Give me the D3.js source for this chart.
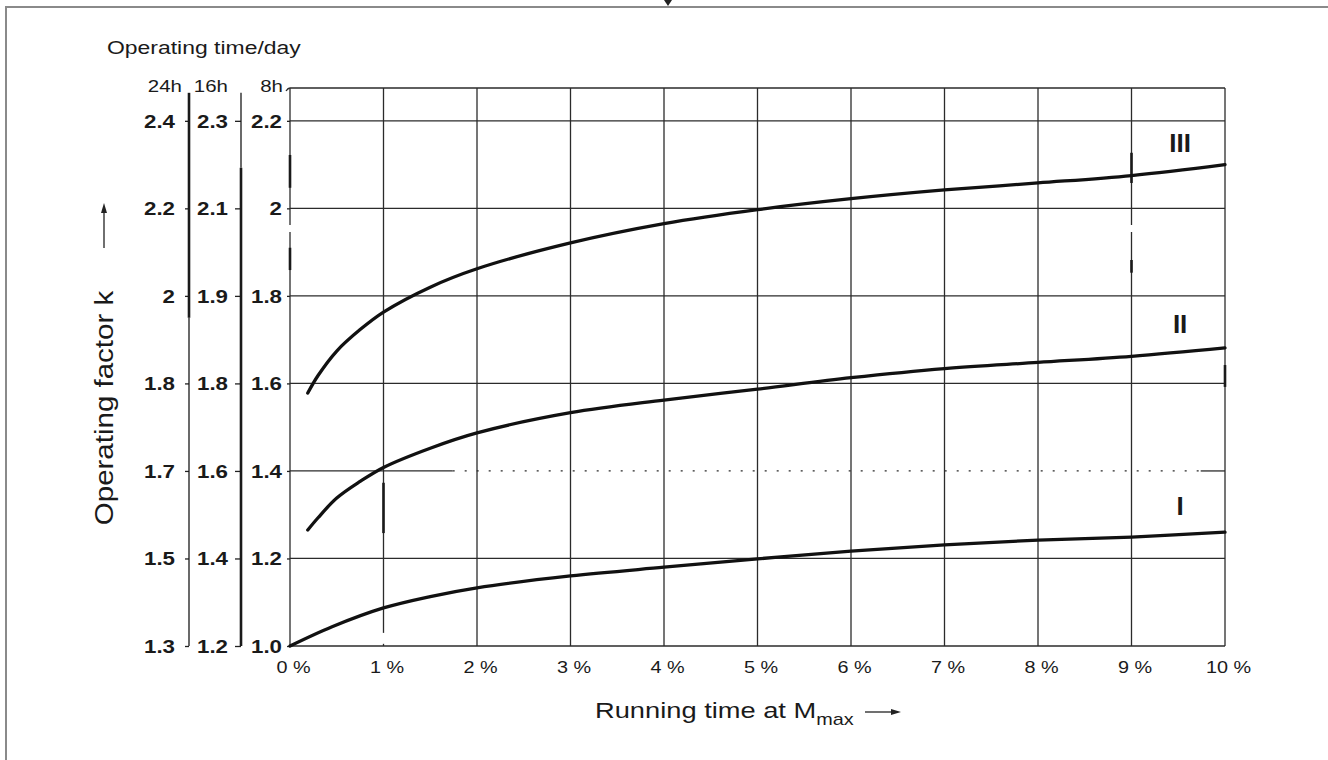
<!DOCTYPE html>
<html>
<head>
<meta charset="utf-8">
<script src="https://cdn.jsdelivr.net/npm/d3@7"></script>
<style>
  body { margin: 0; background: #fff; }
  svg { display: block; }
  text { font-family: "Liberation Sans", Arial, Helvetica, sans-serif; fill: #1a1a1a; }
</style>
</head>
<body>
<div id="chart"></div>
<script>
// running time at Mmax, in %
var runPct = [0, 1, 2, 3, 4, 5, 6, 7, 8, 9, 10];

// operating factor k (read on the 8h scale) for the three load classes
var curveI_x   = [0, 0.45, 1, 1.5, 2, 3, 4, 5, 6, 7, 8, 9, 10];
var curveI_k   = [1.0, 1.044, 1.087, 1.113, 1.133, 1.16, 1.18, 1.199, 1.217, 1.231, 1.242, 1.249, 1.26];
var curveII_x  = [0.19, 0.3, 0.5, 0.75, 1, 1.5, 2, 3, 4, 5, 6, 7, 8, 9, 10];
var curveII_k  = [1.265, 1.293, 1.338, 1.376, 1.408, 1.452, 1.487, 1.533, 1.562, 1.587, 1.613, 1.634, 1.648, 1.662, 1.681];
var curveIII_x = [0.19, 0.3, 0.5, 0.75, 1, 1.5, 2, 3, 4, 5, 6, 7, 8, 9, 10];
var curveIII_k = [1.578, 1.618, 1.674, 1.723, 1.763, 1.820, 1.862, 1.921, 1.965, 1.997, 2.022, 2.042, 2.058, 2.075, 2.10];
var curveNames = ["I", "II", "III"];

// the three k scales (operating time per day) share the same tick rows
var dutyHeads  = ["24h", "16h", "8h"];
var kTicks8h   = [1.0, 1.2, 1.4, 1.6, 1.8, 2.0, 2.2];
var labels8h   = ["1.0", "1.2", "1.4", "1.6", "1.8", "2", "2.2"];
var labels16h  = ["1.2", "1.4", "1.6", "1.8", "1.9", "2.1", "2.3"];
var labels24h  = ["1.3", "1.5", "1.7", "1.8", "2", "2.2", "2.4"];

var W = 1328, H = 760;
var SX = 1.24; // the lettering in the original is extended horizontally

var svg = d3.select("#chart").append("svg").attr("width", W).attr("height", H);

var x = d3.scaleLinear().domain([0, 10]).range([290, 1225]);
var y = d3.scaleLinear().domain([1.0, 2.275]).range([646, 88]);

// outer frame (runs off the page) and the little marker on it
svg.append("path")
    .attr("d", "M6," + H + " L6,7 L" + W + ",7")
    .attr("fill", "none").attr("stroke", "#8a8a8a").attr("stroke-width", 2);
svg.append("path").attr("d", "M664,0 L672,0 L668,6 Z").attr("fill", "#222");

// grid
var grid = svg.append("g").attr("stroke", "#2b2b2b").attr("stroke-width", 1.3).attr("fill", "none");
runPct.forEach(function (v) {
    grid.append("line")
        .attr("x1", x(v)).attr("x2", x(v))
        .attr("y1", y(1.0)).attr("y2", y(2.275));
});
kTicks8h.forEach(function (k) {
    if (k === 1.4) return; // this one is broken up in the scan, drawn below
    grid.append("line")
        .attr("x1", x(0)).attr("x2", x(10))
        .attr("y1", y(k)).attr("y2", y(k));
});
grid.append("path") // top of the box with the small hook at the corner
    .attr("d", "M" + (x(0) - 4) + "," + (y(2.275) + 3) + " Q" + (x(0) - 2) + "," + y(2.275) + " " + x(0) + "," + y(2.275) + " L" + x(10) + "," + y(2.275));
// k = 1.4 row: solid, dotted, solid
grid.append("line").attr("x1", x(0)).attr("x2", x(1.74)).attr("y1", y(1.4)).attr("y2", y(1.4));
grid.append("line").attr("x1", x(1.74)).attr("x2", x(9.74)).attr("y1", y(1.4)).attr("y2", y(1.4))
    .attr("stroke-dasharray", "2,10");
grid.append("line").attr("x1", x(9.74)).attr("x2", x(10)).attr("y1", y(1.4)).attr("y2", y(1.4));

// heavier / missing bits of the printed grid
var scanMarks = [
    { pct: 0, from: 2.122, to: 2.047, w: 2.6 },
    { pct: 0, from: 1.910, to: 1.859, w: 2.6 },
    { pct: 9, from: 2.127, to: 2.058, w: 2.6 },
    { pct: 9, from: 1.882, to: 1.853, w: 2.6 },
    { pct: 10, from: 1.642, to: 1.592, w: 2.6 },
    { pct: 1, from: 1.373, to: 1.258, w: 2.6 }
];
var scanGaps = [
    { pct: 0, from: 1.962, to: 1.946 },
    { pct: 9, from: 1.962, to: 1.946 },
    { pct: 1, from: 1.03, to: 1.005 }
];
scanMarks.forEach(function (m) {
    svg.append("line")
        .attr("x1", x(m.pct)).attr("x2", x(m.pct))
        .attr("y1", y(m.from)).attr("y2", y(m.to))
        .attr("stroke", "#1a1a1a").attr("stroke-width", m.w);
});
scanGaps.forEach(function (m) {
    svg.append("line")
        .attr("x1", x(m.pct)).attr("x2", x(m.pct))
        .attr("y1", y(m.from)).attr("y2", y(m.to))
        .attr("stroke", "#fff").attr("stroke-width", 3);
});

// the three k axes on the left
function kAxis(xpos, labels, tickLen, pad, segs) {
    var ax = d3.axisLeft(y)
        .tickValues(kTicks8h)
        .tickSize(tickLen)
        .tickFormat(function (d, i) { return labels[i]; });
    var g = svg.append("g").attr("transform", "translate(" + xpos + ",0)").call(ax);
    g.select(".domain").remove();
    g.selectAll(".tick line").attr("stroke", "#222").attr("stroke-width", 1.3);
    g.selectAll(".tick text")
        .attr("x", 0)
        .attr("dy", "0.36em")
        .attr("transform", "translate(" + (-pad) + ",0) scale(" + SX + ",1)")
        .attr("font-size", 18)
        .attr("font-weight", "bold")
        .attr("fill", "#1a1a1a");
    segs.forEach(function (s) {
        g.append("line")
            .attr("x1", 0).attr("x2", 0)
            .attr("y1", y(s[0])).attr("y2", y(s[1]))
            .attr("stroke", "#1a1a1a").attr("stroke-width", s[2]);
    });
    return g;
}
kAxis(189, labels24h, 4, 14, [[2.264, 1.75, 2.6], [1.75, 1.0, 1.3]]);
kAxis(241, labels16h, 6, 13, [[2.264, 2.093, 1.3], [2.093, 1.0, 2.6]]);
kAxis(290, labels8h, 3, 8, []);

// heads of the k scales
var headX = [182, 228, 283];
dutyHeads.forEach(function (h, i) {
    svg.append("text")
        .attr("transform", "translate(" + headX[i] + ",92) scale(" + SX + ",1)")
        .attr("text-anchor", "end")
        .attr("font-size", 16.5)
        .text(h);
});

svg.append("text")
    .attr("transform", "translate(107,54) scale(" + SX + ",1)")
    .attr("font-size", 18.5)
    .text("Operating time/day");

// x axis
var xg = svg.append("g")
    .attr("transform", "translate(0," + y(1.0) + ")")
    .call(d3.axisBottom(x).tickValues(runPct).tickSize(0)
        .tickFormat(function (d) { return d + " %"; }));
xg.select(".domain").remove();
xg.selectAll(".tick text")
    .attr("y", 0).attr("dy", 0)
    .attr("transform", "translate(3,27) scale(" + SX + ",1)")
    .attr("text-anchor", "middle")
    .attr("font-size", 16)
    .attr("fill", "#333");

// curves
var line = d3.line()
    .x(function (d) { return x(d[0]); })
    .y(function (d) { return y(d[1]); })
    .curve(d3.curveCatmullRom.alpha(0.5));
var curves = [
    d3.zip(curveI_x, curveI_k),
    d3.zip(curveII_x, curveII_k),
    d3.zip(curveIII_x, curveIII_k)
];
svg.append("g").selectAll("path")
    .data(curves)
    .enter().append("path")
    .attr("d", line)
    .attr("fill", "none")
    .attr("stroke", "#111")
    .attr("stroke-width", 3.3)
    .attr("stroke-linecap", "round");

// curve names
var namePos = [[9.52, 1.299], [9.52, 1.715], [9.52, 2.129]];
curveNames.forEach(function (n, i) {
    svg.append("text")
        .attr("x", x(namePos[i][0]))
        .attr("y", y(namePos[i][1]))
        .attr("text-anchor", "middle")
        .attr("font-size", 26)
        .attr("font-weight", "bold")
        .text(n);
});

// axis titles with their arrows
var xt = svg.append("text")
    .attr("transform", "translate(595,718) scale(" + SX + ",1)")
    .attr("font-size", 22);
xt.append("tspan").text("Running time at M");
xt.append("tspan").attr("font-size", 16).attr("dy", 7).text("max");
svg.append("line").attr("x1", 865).attr("x2", 893).attr("y1", 712).attr("y2", 712)
    .attr("stroke", "#222").attr("stroke-width", 1.3);
svg.append("path").attr("d", "M901,712 L891,709 L891,715 Z").attr("fill", "#222");

svg.append("text")
    .attr("transform", "translate(113,408) rotate(-90) scale(1.18,1)")
    .attr("text-anchor", "middle")
    .attr("font-size", 25)
    .text("Operating factor k");
svg.append("line").attr("x1", 104).attr("x2", 104).attr("y1", 248).attr("y2", 212)
    .attr("stroke", "#222").attr("stroke-width", 1.3);
svg.append("path").attr("d", "M104,203 L101,213 L107,213 Z").attr("fill", "#222");
</script>
</body>
</html>
